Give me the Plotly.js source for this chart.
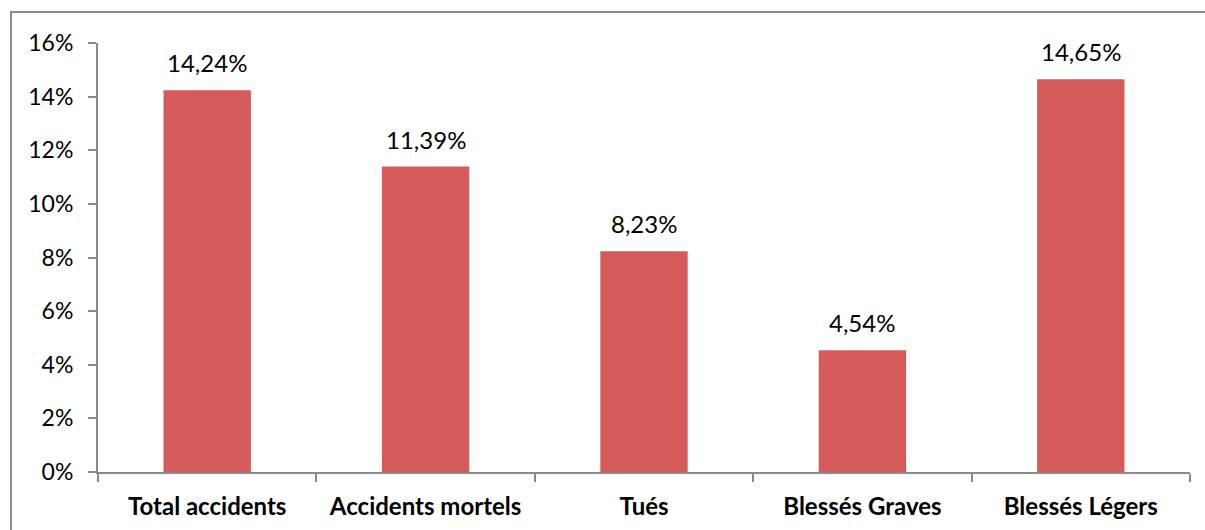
<!DOCTYPE html>
<html>
<head>
<meta charset="utf-8">
<script src="https://cdn.plot.ly/plotly-3.0.1.min.js"></script>
<style>
  html, body { margin: 0; padding: 0; background: #fff; }
  #wrap { position: relative; width: 1205px; height: 530px; overflow: hidden; }
  #chart { position: absolute; left: 0; top: 0; width: 1205px; height: 530px; }
  #frame { position: absolute; left: 10px; top: 11px; width: 1200px; height: 540px;
           border: 2px solid #8a8a8a; pointer-events: none; box-sizing: border-box; }
</style>
</head>
<body>
<div id="wrap">
  <div id="chart"></div>
  <div id="frame"></div>
</div>
<script>
const categories = ["Total accidents", "Accidents mortels", "Tués", "Blessés Graves", "Blessés Légers"];
const values = [14.24, 11.39, 8.23, 4.54, 14.65];
const yTicks = [0, 2, 4, 6, 8, 10, 12, 14, 16];

const FONT = "Lato, 'Open Sans', sans-serif";
const labels = values.map(v => v.toFixed(2).replace('.', ',') + '%');

const trace = {
  type: 'bar',
  x: categories,
  y: values,
  width: 0.4,
  marker: { color: '#D55A5A' },
  hoverinfo: 'skip'
};

const annotations = categories.map((c, i) => ({
  x: c, y: values[i], xref: 'x', yref: 'y',
  text: labels[i], showarrow: false,
  yanchor: 'bottom', yshift: 11,
  font: { family: FONT, size: 24, color: '#000' }
}));

const layout = {
  width: 1205, height: 530,
  margin: { l: 98, r: 15, t: 43, b: 58 },
  paper_bgcolor: '#fff', plot_bgcolor: '#fff',
  showlegend: false,
  xaxis: {
    type: 'category',
    showline: true, linecolor: '#8a8a8a', linewidth: 2,
    ticks: 'outside', tickson: 'boundaries', ticklen: 8, tickcolor: '#8a8a8a', tickwidth: 2,
    showgrid: false, zeroline: false,
    ticklabelstandoff: 12,
    tickfont: { family: FONT, size: 24, color: '#000', weight: 'bold' }
  },
  yaxis: {
    range: [0, 16], tickvals: yTicks, ticktext: yTicks.map(t => t + '%'),
    showline: true, linecolor: '#8a8a8a', linewidth: 2,
    ticks: 'outside', ticklen: 8, tickcolor: '#8a8a8a', tickwidth: 2,
    showgrid: false, zeroline: false,
    ticklabelstandoff: 10,
    tickfont: { family: FONT, size: 23, color: '#000' }
  },
  annotations: annotations
};

Plotly.newPlot('chart', [trace], layout, { displayModeBar: false, staticPlot: true });
</script>
</body>
</html>
